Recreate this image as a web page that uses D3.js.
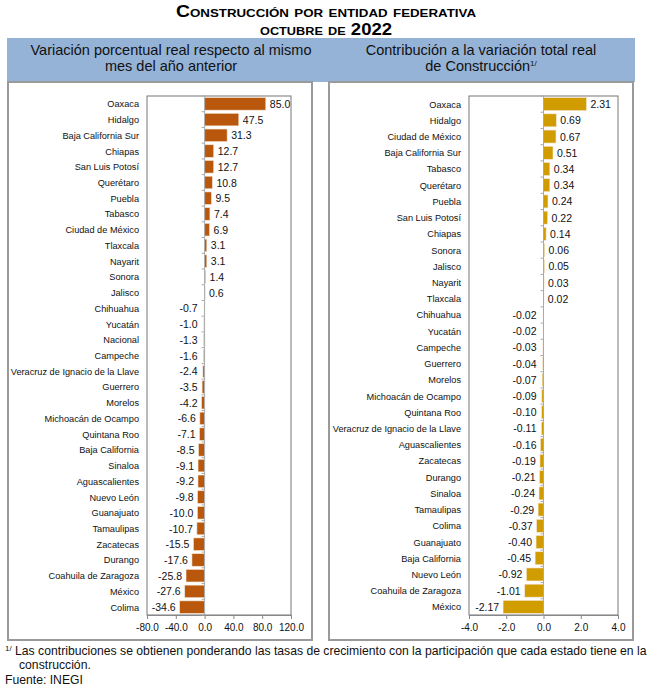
<!DOCTYPE html>
<html><head><meta charset="utf-8">
<script src="https://cdn.jsdelivr.net/npm/d3@7"></script>
<style>
body{margin:0;background:#fff;}
svg{font-family:"Liberation Sans",Arial,sans-serif;}
</style></head>
<body><svg id="c" width="652" height="689"></svg>
<script>
const leftCategories = ["Oaxaca","Hidalgo","Baja California Sur","Chiapas","San Luis Potosí","Querétaro","Puebla","Tabasco","Ciudad de México","Tlaxcala","Nayarit","Sonora","Jalisco","Chihuahua","Yucatán","Nacional","Campeche","Veracruz de Ignacio de la Llave","Guerrero","Morelos","Michoacán de Ocampo","Quintana Roo","Baja California","Sinaloa","Aguascalientes","Nuevo León","Guanajuato","Tamaulipas","Zacatecas","Durango","Coahuila de Zaragoza","México","Colima"];
const leftValues = [85.0,47.5,31.3,12.7,12.7,10.8,9.5,7.4,6.9,3.1,3.1,1.4,0.6,-0.7,-1.0,-1.3,-1.6,-2.4,-3.5,-4.2,-6.6,-7.1,-8.5,-9.1,-9.2,-9.8,-10.0,-10.7,-15.5,-17.6,-25.8,-27.6,-34.6];
const leftTicks = [-80,-40,0,40,80,120];

const rightCategories = ["Oaxaca","Hidalgo","Ciudad de México","Baja California Sur","Tabasco","Querétaro","Puebla","San Luis Potosí","Chiapas","Sonora","Jalisco","Nayarit","Tlaxcala","Chihuahua","Yucatán","Campeche","Guerrero","Morelos","Michoacán de Ocampo","Quintana Roo","Veracruz de Ignacio de la Llave","Aguascalientes","Zacatecas","Durango","Sinaloa","Tamaulipas","Colima","Guanajuato","Baja California","Nuevo León","Coahuila de Zaragoza","México"];
const rightValues = [2.31,0.69,0.67,0.51,0.34,0.34,0.24,0.22,0.14,0.06,0.05,0.03,0.02,-0.02,-0.02,-0.03,-0.04,-0.07,-0.09,-0.10,-0.11,-0.16,-0.19,-0.21,-0.24,-0.29,-0.37,-0.40,-0.45,-0.92,-1.01,-2.17];
const rightTicks = [-4,-2,0,2,4];

const svg = d3.select("#c");

// Titles
svg.append("text").attr("x",326).attr("y",17).attr("text-anchor","middle")
  .attr("font-size",16).attr("font-weight","bold").style("font-variant","small-caps")
  .attr("textLength",300).attr("lengthAdjust","spacingAndGlyphs")
  .text("Construcción por entidad federativa");
svg.append("text").attr("x",326).attr("y",35).attr("text-anchor","middle")
  .attr("font-size",16).attr("font-weight","bold").style("font-variant","small-caps")
  .attr("textLength",132).attr("lengthAdjust","spacingAndGlyphs")
  .text("octubre de 2022");

// Header band
svg.append("rect").attr("x",7).attr("y",38).attr("width",628).attr("height",44).attr("fill","#95B3D7");
const hdr = (x, lines) => {
  const t = svg.append("text").attr("text-anchor","middle").attr("font-size",14.5).attr("fill","#111");
  lines.forEach((l,i)=>{
    t.append("tspan").attr("x",x).attr("y",55+i*16).text(l.text);
    if(l.sup){ t.append("tspan").attr("dy",-5).attr("font-size",8).text(l.sup); }
  });
};
hdr(171,[{text:"Variación porcentual real respecto al mismo"},{text:"mes del año anterior"}]);
hdr(481,[{text:"Contribución a la variación total real"},{text:"de Construcción",sup:"1/"}]);

// Panels
[[7,313],[328,634]].forEach(([x0,x1])=>{
  svg.append("rect").attr("x",x0+1).attr("y",82).attr("width",x1-x0-2).attr("height",558)
    .attr("fill","#fff").attr("stroke","#9a9a9a").attr("stroke-width",2);
});

function panel(cats, vals, ticks, xr, yr, color, labelX, digits){
  const x = d3.scaleLinear().domain([ticks[0],ticks[ticks.length-1]]).range(xr);
  const y = d3.scaleBand().domain(cats).range(yr).paddingInner(0.2).paddingOuter(0.1);
  const g = svg.append("g");
  g.append("rect").attr("x",xr[0]).attr("y",yr[0]).attr("width",xr[1]-xr[0]).attr("height",yr[1]-yr[0])
    .attr("fill","none").attr("stroke","#777").attr("stroke-width",1);
  const ax = g.append("g").attr("transform",`translate(0,${yr[1]})`)
    .call(d3.axisBottom(x).tickValues(ticks).tickSize(4).tickFormat(d=>d.toFixed(1)));
  ax.select(".domain").attr("stroke","#888");
  ax.selectAll(".tick line").attr("stroke","#888");
  ax.selectAll(".tick text").attr("font-size",10).attr("fill","#111").attr("dy","0.9em")
    .attr("font-family","Liberation Sans, Arial, sans-serif");
  g.selectAll("rect.bar").data(cats).enter().append("rect").attr("class","bar")
    .attr("x",(d,i)=>x(Math.min(0,vals[i])))
    .attr("y",d=>y(d))
    .attr("width",(d,i)=>Math.abs(x(vals[i])-x(0)))
    .attr("height",y.bandwidth())
    .attr("fill",color).attr("stroke","#f3e6d8").attr("stroke-width",0.6);
  g.append("line").attr("x1",x(0)).attr("x2",x(0)).attr("y1",yr[0]).attr("y2",yr[1]).attr("stroke","#aaa");
  const step = y.step();
  g.selectAll("line.zt").data(d3.range(cats.length+1)).enter().append("line")
    .attr("x1",x(0)-3).attr("x2",x(0)).attr("y1",i=>yr[0]+i*step).attr("y2",i=>yr[0]+i*step)
    .attr("stroke","#aaa");
  g.selectAll("text.val").data(cats).enter().append("text")
    .attr("x",(d,i)=> vals[i]>=0 ? x(vals[i])+4 : Math.min(x(vals[i]),x(0)-3)-4)
    .attr("y",d=>y(d)+y.bandwidth()/2+4)
    .attr("text-anchor",(d,i)=>vals[i]>=0?"start":"end")
    .attr("font-size",10.5).attr("fill","#111")
    .text((d,i)=>vals[i].toFixed(digits));
  g.selectAll("text.cat").data(cats).enter().append("text")
    .attr("x",labelX).attr("y",d=>y(d)+y.bandwidth()/2+3.5)
    .attr("text-anchor","end").attr("font-size",9.2).attr("fill","#111")
    .text(d=>d);
}
panel(leftCategories,leftValues,leftTicks,[147,291],[96,615],"#B9580C",139,1);
panel(rightCategories,rightValues,rightTicks,[469,618],[96,615],"#D09C00",461,2);

// Footnote
const fn = svg.append("text").attr("font-size",12.2).attr("fill","#111");
fn.append("tspan").attr("x",5).attr("y",655).attr("font-size",8).attr("dy",-4).text("1/");
fn.append("tspan").attr("dy",4).text(" Las contribuciones se obtienen ponderando las tasas de crecimiento con la participación que cada estado tiene en la");
svg.append("text").attr("x",19).attr("y",669).attr("font-size",12.2).attr("fill","#111").text("construcción.");
svg.append("text").attr("x",5).attr("y",684).attr("font-size",12.2).attr("fill","#111").text("Fuente: INEGI");
</script></body></html>
